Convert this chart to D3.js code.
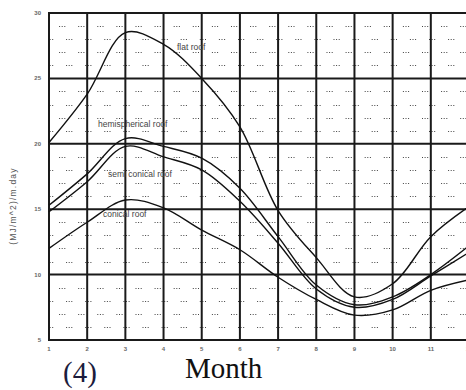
<!DOCTYPE html>
<html>
<head>
<meta charset="utf-8">
<script src="https://cdn.jsdelivr.net/npm/d3@7"></script>
<style>
  body { margin: 0; background: #fff; }
  svg { display: block; }
</style>
</head>
<body>
<div id="chart"></div>
<script>
// data (month 12 is cut off at the right edge)
const months = [1, 2, 3, 4, 5, 6, 7, 8, 9, 10, 11, 12];
const flatRoof = [20.1, 23.8, 28.5, 27.6, 25.0, 21.3, 14.9, 11.3, 8.3, 9.3, 12.9, 15.2];
const hemiRoof = [15.3, 17.7, 20.4, 19.8, 18.9, 16.6, 12.9, 9.2, 7.7, 8.3, 10.0, 12.2];
const semiRoof = [14.8, 17.1, 19.8, 19.0, 18.0, 15.6, 12.4, 8.9, 7.5, 8.1, 9.9, 11.7];
const conicRoof = [12.0, 14.0, 15.7, 15.1, 13.4, 11.9, 9.8, 8.1, 6.9, 7.3, 8.8, 9.6];
const seriesNames = ["flat roof", "hemispherical roof", "semi conical roof", "conical roof"];
const yTicks = [5, 10, 15, 20, 25, 30];
const xTicks = months;

const width = 466, height = 390;
const padL = 49, padR = 469, padT = 13, padB = 340;

const svg = d3.select("#chart").append("svg")
  .attr("width", width)
  .attr("height", height);

const x = d3.scaleLinear().domain([1, 12]).range([padL, padR]);
const y = d3.scaleLinear().domain([5, 30]).range([padB, padT]);

// minor dotted rows
const minor = d3.range(6, 30).filter(v => v % 5 !== 0);
svg.append("g").selectAll("line")
  .data(minor)
  .enter().append("line")
  .attr("x1", padL).attr("x2", padR)
  .attr("y1", d => Math.round(y(d)) + 0.5).attr("y2", d => Math.round(y(d)) + 0.5)
  .attr("stroke", "#444")
  .attr("stroke-width", 1)
  .attr("stroke-dasharray", "1,1.6,1,1.6,1,12.9")
  .attr("stroke-dashoffset", (d, i) => (i % 2) ? 9 : 2);

// major grid
svg.append("g").selectAll("line")
  .data(yTicks)
  .enter().append("line")
  .attr("x1", padL - 1).attr("x2", padR)
  .attr("y1", d => y(d)).attr("y2", d => y(d))
  .attr("stroke", "#1a1a1a")
  .attr("stroke-width", 2);

svg.append("g").selectAll("line")
  .data(xTicks)
  .enter().append("line")
  .attr("x1", d => x(d)).attr("x2", d => x(d))
  .attr("y1", padT).attr("y2", padB + 1)
  .attr("stroke", "#1a1a1a")
  .attr("stroke-width", 2);

// tick labels
svg.append("g").selectAll("text")
  .data(yTicks)
  .enter().append("text")
  .attr("x", 41).attr("y", d => y(d) + 2)
  .attr("text-anchor", "end")
  .attr("font-family", "Liberation Sans, Arial, sans-serif")
  .attr("font-size", 6)
  .attr("font-weight", "bold")
  .attr("fill", "#666")
  .text(d => d);

svg.append("g").selectAll("text")
  .data(xTicks)
  .enter().append("text")
  .attr("x", d => x(d)).attr("y", 351)
  .attr("text-anchor", "middle")
  .attr("font-family", "Liberation Sans, Arial, sans-serif")
  .attr("font-size", 6)
  .attr("font-weight", "bold")
  .attr("fill", "#666")
  .text(d => d);

// curves
const line = d3.line()
  .x((d, i) => x(months[i]))
  .y(d => y(d))
  .curve(d3.curveCatmullRom.alpha(0.5));

[flatRoof, hemiRoof, semiRoof, conicRoof].forEach(s => {
  svg.append("path")
    .attr("d", line(s))
    .attr("fill", "none")
    .attr("stroke", "#111")
    .attr("stroke-width", 1.4);
});

// curve labels
const labelPos = [[177, 50], [98, 127], [108, 177], [103, 217]];
svg.append("g").selectAll("text")
  .data(seriesNames)
  .enter().append("text")
  .attr("x", (d, i) => labelPos[i][0])
  .attr("y", (d, i) => labelPos[i][1])
  .attr("font-family", "Liberation Sans, Arial, sans-serif")
  .attr("font-size", 8.5)
  .attr("fill", "#444")
  .text(d => d);

// y title
svg.append("text")
  .attr("transform", "translate(16,206) rotate(-90)")
  .attr("text-anchor", "middle")
  .attr("font-family", "Liberation Sans, Arial, sans-serif")
  .attr("font-size", 8.5)
  .attr("letter-spacing", 1.2)
  .attr("fill", "#555")
  .text("(MJ/m^2)/m.day");

// bottom captions
svg.append("text")
  .attr("x", 63).attr("y", 382)
  .attr("font-family", "Liberation Serif, Times New Roman, serif")
  .attr("font-size", 29)
  .attr("fill", "#1c1c3c")
  .text("(4)");

svg.append("text")
  .attr("x", 185).attr("y", 378)
  .attr("font-family", "Liberation Serif, Times New Roman, serif")
  .attr("font-size", 29)
  .attr("fill", "#111")
  .text("Month");
</script>
</body>
</html>
